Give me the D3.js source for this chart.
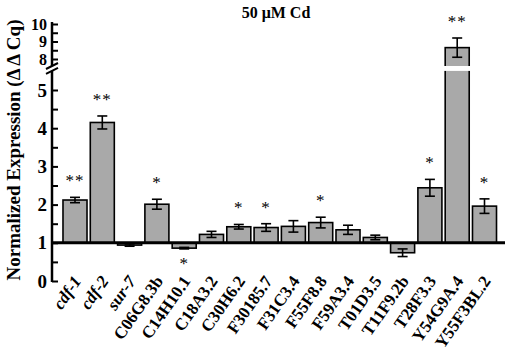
<!DOCTYPE html>
<html>
<head>
<meta charset="utf-8">
<script src="https://cdn.jsdelivr.net/npm/d3@7"></script>
<style>
  body { margin: 0; background: #fff; }
  text { font-family: "Liberation Serif", "Times New Roman", serif; }
</style>
</head>
<body>
<div id="chart-container"></div>
<script>
// data
const genes = ["cdf-1", "cdf-2", "sur-7", "C06G8.3b", "C14H10.1", "C18A3.2", "C30H6.2", "F30185.7",
  "F31C3.4", "F55F8.8", "F59A3.4", "T01D3.5", "T11F9.2b", "T28F3.3", "Y54G9A.4", "Y55F3BL.2"];
const italicGenes = ["cdf-1", "cdf-2", "sur-7"];
const means = [2.12, 4.15, 0.94, 2.01, 0.86, 1.22, 1.42, 1.40, 1.43, 1.53, 1.34, 1.14, 0.74, 2.44, 8.65, 1.96];
const errors = [0.07, 0.17, 0.03, 0.13, 0.02, 0.08, 0.06, 0.10, 0.15, 0.14, 0.12, 0.06, 0.10, 0.22, 0.55, 0.19];
const stars = ["**", "**", "", "*", "*", "", "*", "*", "", "*", "", "", "", "*", "**", "*"];
const lowTicks = [0, 0.5, 1, 1.5, 2, 2.5, 3, 3.5, 4, 4.5, 5];
const highTicks = [8, 8.5, 9, 9.5, 10];
const title = "50 \u03bcM Cd";
const yTitle = "Normalized Expression (\u0394 \u0394 Cq)";

const width = 505, height = 356;
const axisX = 52;

const svg = d3.select("#chart-container")
  .append("svg")
    .attr("width", width)
    .attr("height", height);

// scales: broken y axis, lower part 0-5, upper part 8-10
const x = d3.scaleBand()
  .domain(genes)
  .range([61.35, 498.15])
  .paddingInner(0.12)
  .paddingOuter(0.06);

const yLow = d3.scaleLinear().domain([0, 5]).range([281, 90]);
const yHigh = d3.scaleLinear().domain([8, 10]).range([59, 24]);
const lowTop = 5.5, highBottom = 7.6;
const y = v => v > lowTop ? yHigh(v) : yLow(v);

// bars from baseline 1
svg.append("g")
  .selectAll("rect")
  .data(genes)
  .join("rect")
    .attr("x", d => x(d))
    .attr("y", (d, i) => Math.min(y(means[i]), yLow(1)))
    .attr("width", x.bandwidth())
    .attr("height", (d, i) => Math.abs(yLow(1) - y(means[i])))
    .attr("fill", "#a9a9a9")
    .attr("stroke", "#000")
    .attr("stroke-width", 1.6);

// white gap across bars that pass the break
svg.append("g")
  .selectAll("rect")
  .data(genes.filter((d, i) => means[i] > lowTop))
  .join("rect")
    .attr("x", d => x(d) - 2)
    .attr("y", yHigh(highBottom))
    .attr("width", x.bandwidth() + 4)
    .attr("height", yLow(lowTop) - yHigh(highBottom))
    .attr("fill", "#fff");

// error bars at the bar end
const err = svg.append("g")
  .attr("stroke", "#000")
  .attr("stroke-width", 1.6);
genes.forEach((g, i) => {
  const cx = x(g) + x.bandwidth() / 2;
  const lo = y(means[i] - errors[i]), hi = y(means[i] + errors[i]);
  err.append("line").attr("x1", cx).attr("x2", cx).attr("y1", lo).attr("y2", hi);
  err.append("line").attr("x1", cx - 5).attr("x2", cx + 5).attr("y1", lo).attr("y2", lo);
  err.append("line").attr("x1", cx - 5).attr("x2", cx + 5).attr("y1", hi).attr("y2", hi);
});

// significance stars
svg.append("g")
  .selectAll("text")
  .data(genes)
  .join("text")
    .attr("x", d => x(d) + x.bandwidth() / 2)
    .attr("y", (d, i) => means[i] >= 1
      ? y(means[i] + errors[i]) - 11
      : y(means[i] - errors[i]) + 20)
    .attr("text-anchor", "middle")
    .attr("font-size", 17)
    .attr("letter-spacing", 1)
    .attr("fill", "#000")
    .text((d, i) => stars[i]);

// baseline at 1
svg.append("line")
  .attr("x1", axisX)
  .attr("x2", width)
  .attr("y1", yLow(1))
  .attr("y2", yLow(1))
  .attr("stroke", "#000")
  .attr("stroke-width", 3);

// y axes
const fmt = d => Number.isInteger(d) ? d : "";

const gLow = svg.append("g")
  .attr("transform", `translate(${axisX},0)`)
  .call(d3.axisLeft(yLow).tickValues(lowTicks).tickFormat(fmt).tickSize(-6).tickSizeOuter(0).tickPadding(5));

const gHigh = svg.append("g")
  .attr("transform", `translate(${axisX},0)`)
  .call(d3.axisLeft(yHigh).tickValues(highTicks).tickFormat(fmt).tickSize(-6).tickSizeOuter(0).tickPadding(5));

[gLow, gHigh].forEach(g => {
  g.select(".domain").remove();
  g.selectAll(".tick line").attr("stroke-width", 2);
  g.selectAll(".tick text")
    .attr("font-family", "Liberation Serif, serif")
    .attr("font-weight", "bold")
    .attr("font-size", 19)
    .attr("fill", "#000");
});
gHigh.selectAll(".tick text").attr("font-size", 16);

svg.append("line")
  .attr("x1", axisX).attr("x2", axisX)
  .attr("y1", yLow(0) + 1).attr("y2", yLow(lowTop))
  .attr("stroke", "#000").attr("stroke-width", 2.5);
svg.append("line")
  .attr("x1", axisX).attr("x2", axisX)
  .attr("y1", yHigh(highBottom)).attr("y2", yHigh(10) - 2)
  .attr("stroke", "#000").attr("stroke-width", 2.5);

// break marks
[yHigh(highBottom), yLow(lowTop)].forEach(yy => {
  svg.append("line")
    .attr("x1", axisX - 6).attr("x2", axisX + 6)
    .attr("y1", yy + 3).attr("y2", yy - 3)
    .attr("stroke", "#000").attr("stroke-width", 2);
});

// x labels, steeper than 45 degrees
svg.append("g")
  .selectAll("text")
  .data(genes)
  .join("text")
    .attr("transform", d => `translate(${x(d) + x.bandwidth() / 2 + 7},281) rotate(-55)`)
    .attr("text-anchor", "end")
    .attr("font-size", 17)
    .attr("font-weight", "bold")
    .attr("font-style", d => italicGenes.includes(d) ? "italic" : "normal")
    .text(d => d);

// titles
svg.append("text")
  .attr("x", 276)
  .attr("y", 18)
  .attr("text-anchor", "middle")
  .attr("font-size", 16)
  .attr("font-weight", "bold")
  .text(title);

svg.append("text")
  .attr("transform", `translate(20,150) rotate(-90)`)
  .attr("text-anchor", "middle")
  .attr("font-size", 19)
  .attr("font-weight", "bold")
  .text(yTitle);
</script>
</body>
</html>
